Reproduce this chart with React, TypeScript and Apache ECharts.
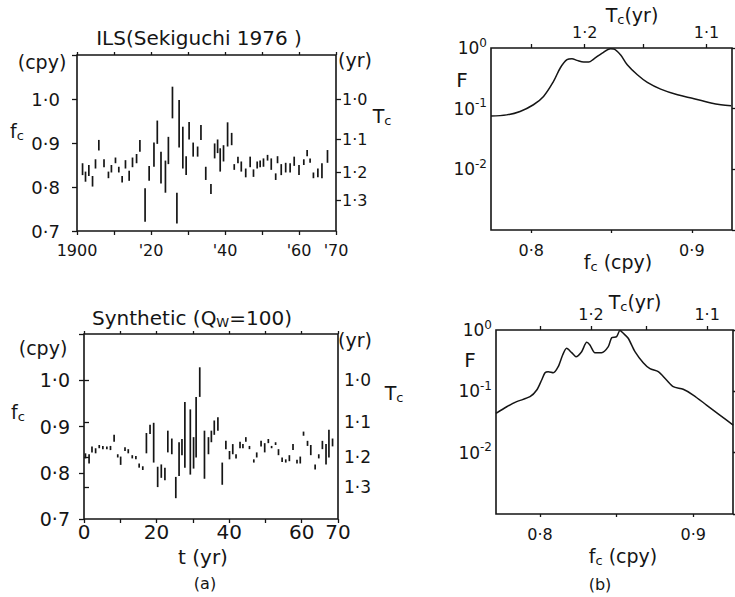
import React, { useEffect, useRef } from 'react';
import * as echarts from 'echarts';

// ---------- data ----------
// (a) top: ILS (Sekiguchi 1976) — year, low and high f_c (cpy)
const ilsYear = [1901.5, 1902.3, 1903.2, 1904.2, 1905.0, 1905.9, 1907.3, 1908.5, 1909.3, 1910.4,
  1911.3, 1912.2, 1913.1, 1914.1, 1915.0, 1916.1, 1917.0, 1918.4, 1919.5, 1920.8,
  1921.7, 1922.7, 1923.9, 1924.7, 1925.8, 1927.0, 1927.6, 1928.6, 1929.5, 1930.3,
  1931.4, 1932.6, 1933.5, 1934.8, 1936.2, 1937.2, 1938.0, 1938.7, 1939.6, 1940.7,
  1941.8, 1942.5, 1943.5, 1944.4, 1945.6, 1946.8, 1947.7, 1948.7, 1949.5, 1950.4,
  1951.5, 1952.5, 1953.7, 1954.2, 1955.2, 1956.4, 1957.6, 1958.7, 1960.0, 1961.3,
  1962.2, 1963.0, 1963.9, 1965.1, 1966.2, 1967.7];
const ilsHigh = [0.854, 0.835, 0.850, 0.825, 0.863, 0.907, 0.863, 0.835, 0.850, 0.867,
  0.846, 0.825, 0.861, 0.837, 0.867, 0.875, 0.907, 0.797, 0.848, 0.901,
  0.951, 0.880, 0.860, 0.914, 1.028, 0.787, 0.998, 0.937, 0.870, 0.948,
  0.901, 0.892, 0.941, 0.846, 0.807, 0.899, 0.908, 0.888, 0.895, 0.947,
  0.923, 0.852, 0.869, 0.858, 0.842, 0.869, 0.840, 0.858, 0.860, 0.865,
  0.873, 0.865, 0.831, 0.870, 0.852, 0.855, 0.854, 0.869, 0.850, 0.863,
  0.884, 0.865, 0.833, 0.842, 0.854, 0.884];
const ilsLow = [0.827, 0.812, 0.825, 0.801, 0.842, 0.883, 0.845, 0.820, 0.833, 0.854,
  0.833, 0.810, 0.842, 0.814, 0.845, 0.854, 0.880, 0.721, 0.814, 0.846,
  0.898, 0.808, 0.787, 0.852, 0.956, 0.717, 0.890, 0.842, 0.827, 0.908,
  0.869, 0.869, 0.907, 0.816, 0.784, 0.865, 0.877, 0.835, 0.858, 0.892,
  0.895, 0.839, 0.854, 0.835, 0.822, 0.845, 0.823, 0.842, 0.845, 0.846,
  0.860, 0.839, 0.816, 0.854, 0.827, 0.833, 0.833, 0.848, 0.827, 0.850,
  0.870, 0.855, 0.820, 0.822, 0.820, 0.855];

// (a) bottom: Synthetic (Qw=100) — t (yr), low and high f_c (cpy)
const synT = [0.4, 1.4, 2.2, 3.2, 4.2, 5.2, 6.3, 7.3, 8.3, 9.3,
  10.1, 11.3, 12.2, 13.3, 14.3, 15.2, 16.2, 17.2, 18.2, 19.2,
  20.3, 21.3, 22.3, 23.1, 24.2, 25.3, 26.2, 27.0, 27.8, 29.3,
  30.2, 30.9, 31.9, 33.2, 34.3, 35.1, 35.9, 36.9, 38.1, 39.1,
  40.1, 41.0, 41.9, 43.0, 43.8, 44.6, 45.6, 46.8, 47.6, 48.8,
  49.8, 50.8, 51.7, 52.8, 53.6, 54.6, 55.6, 56.6, 57.6, 58.7,
  59.6, 60.5, 61.6, 62.5, 63.7, 64.7, 65.7, 66.7, 67.5, 68.5];
const synHigh = [0.842, 0.840, 0.857, 0.853, 0.860, 0.858, 0.857, 0.858, 0.882, 0.840,
  0.835, 0.855, 0.851, 0.838, 0.836, 0.820, 0.814, 0.886, 0.904, 0.908,
  0.813, 0.818, 0.811, 0.891, 0.874, 0.791, 0.866, 0.873, 0.953, 0.937,
  0.877, 0.964, 1.028, 0.891, 0.877, 0.891, 0.913, 0.920, 0.822, 0.869,
  0.847, 0.862, 0.840, 0.867, 0.862, 0.877, 0.858, 0.829, 0.844, 0.869,
  0.864, 0.873, 0.858, 0.866, 0.851, 0.833, 0.829, 0.838, 0.862, 0.828,
  0.835, 0.889, 0.869, 0.860, 0.818, 0.840, 0.869, 0.862, 0.893, 0.874];
const synLow = [0.831, 0.820, 0.844, 0.842, 0.853, 0.851, 0.851, 0.849, 0.867, 0.833,
  0.817, 0.847, 0.842, 0.831, 0.829, 0.811, 0.806, 0.842, 0.884, 0.822,
  0.769, 0.789, 0.784, 0.844, 0.840, 0.745, 0.793, 0.838, 0.811, 0.796,
  0.809, 0.833, 0.964, 0.787, 0.840, 0.866, 0.882, 0.891, 0.774, 0.851,
  0.829, 0.840, 0.831, 0.853, 0.853, 0.867, 0.851, 0.822, 0.833, 0.857,
  0.844, 0.864, 0.853, 0.860, 0.838, 0.823, 0.822, 0.825, 0.849, 0.820,
  0.820, 0.880, 0.858, 0.838, 0.807, 0.831, 0.851, 0.818, 0.833, 0.857];

// (b) top: spectrum F of ILS
const specIlsFreq = [0.775, 0.7848, 0.7931, 0.8014, 0.8077, 0.8139, 0.8181, 0.8223, 0.8254, 0.8285,
  0.8327, 0.8358, 0.8389, 0.8442, 0.8494, 0.8514, 0.8556, 0.8598, 0.8661, 0.8723,
  0.8806, 0.8911, 0.9014, 0.9119, 0.9181, 0.9244];
const specIlsF = [0.076, 0.079, 0.090, 0.116, 0.159, 0.281, 0.468, 0.641, 0.665, 0.625,
  0.586, 0.586, 0.658, 0.826, 0.973, 0.962, 0.774, 0.530, 0.362, 0.271,
  0.210, 0.169, 0.146, 0.124, 0.116, 0.112];

// (b) bottom: spectrum F of synthetic
const specSynFreq = [0.7713, 0.7783, 0.7848, 0.7935, 0.7979, 0.8011, 0.8033, 0.8054, 0.8087, 0.8119,
  0.8148, 0.8174, 0.8207, 0.8235, 0.8272, 0.8305, 0.8326, 0.8359, 0.8402, 0.8446,
  0.8468, 0.8500, 0.8522, 0.8544, 0.8576, 0.8620, 0.8674, 0.8718, 0.8772, 0.8826,
  0.8870, 0.8935, 0.9000, 0.9087, 0.9174, 0.9261];
const specSynF = [0.0438, 0.0561, 0.0678, 0.0817, 0.105, 0.153, 0.201, 0.209, 0.201, 0.252,
  0.391, 0.502, 0.427, 0.367, 0.443, 0.630, 0.569, 0.427, 0.427, 0.535,
  0.750, 0.778, 0.980, 0.883, 0.733, 0.443, 0.293, 0.234, 0.209, 0.153,
  0.119, 0.108, 0.0871, 0.0598, 0.0410, 0.0282];

// tick labels
const yearLabels: Record<number, string> = { 1900: '1900', 1920: "'20", 1940: "'40", 1960: "'60", 1970: "'70" };
const tLabels = [0, 20, 40, 60, 70];
const periodRight = [1.0, 1.1, 1.2, 1.3];
const periodTopTicks = [1.25, 1.2, 1.15, 1.1];
const periodTopLabels = [1.2, 1.1];
const freqTicks = [0.8, 0.85, 0.9];
const freqLabels = [0.8, 0.9];
const logLabelExps = [0, -1, -2];

const INK = '#151515';
const FONT = 'DejaVu Sans';

const dot = (v: number) => v.toFixed(1).replace('.', '\u00b7');

export default function App() {
  const ref = useRef<HTMLDivElement>(null);
  useEffect(() => {
    if (!ref.current) return;
    const chart = echarts.init(ref.current, undefined, { renderer: 'svg' });

    const gridBase = { show: true, borderColor: INK, borderWidth: 1.6, containLabel: false, outerBoundsMode: 'none' };
    const tickStyle = { color: INK, width: 1.3 };
    const noLine = { show: false };

    const timeX = (grid: number, min: number, max: number, labelFn: (v: number) => string, fontSize: number, margin: number) => ([
      {
        type: 'value', gridIndex: grid, position: 'bottom', min, max, interval: 10,
        axisLine: noLine, splitLine: { show: false },
        axisTick: { show: true, inside: false, length: 4, lineStyle: tickStyle },
        axisLabel: { formatter: labelFn, fontSize, margin, color: INK, fontFamily: FONT, showMinLabel: true, showMaxLabel: true },
      },
      {
        type: 'value', gridIndex: grid, position: 'top', min, max, interval: 10,
        axisLine: noLine, splitLine: { show: false },
        axisTick: { show: true, inside: false, length: 3, lineStyle: tickStyle },
        axisLabel: { show: false },
      },
    ]);

    const freqX = (grid: number, min: number, max: number) => ([
      {
        type: 'value', gridIndex: grid, position: 'bottom', min, max,
        axisLine: noLine, splitLine: { show: false },
        axisTick: { show: true, inside: false, length: 3, lineStyle: tickStyle, customValues: freqTicks },
        axisLabel: { customValues: freqLabels, formatter: (v: number) => dot(v), fontSize: 16, margin: 12, color: INK, fontFamily: FONT },
      },
      {
        type: 'value', gridIndex: grid, position: 'top', min, max,
        axisLine: noLine, splitLine: { show: false },
        axisTick: { show: true, inside: false, length: 4, lineStyle: tickStyle, customValues: periodTopTicks.map((T) => 1 / T) },
        axisLabel: { customValues: periodTopLabels.map((T) => 1 / T), formatter: (v: number) => dot(1 / v), fontSize: 16, margin: 8, color: INK, fontFamily: FONT },
      },
    ]);

    const fcY = (grid: number, margin: number, fontSize: number, rightSize: number) => ([
      {
        type: 'value', gridIndex: grid, position: 'left', min: 0.7, max: 1.1, interval: 0.1,
        axisLine: noLine, splitLine: { show: false },
        axisTick: { show: true, inside: false, length: 5, lineStyle: tickStyle },
        axisLabel: { formatter: (v: number) => (v > 1.05 ? '' : dot(v)), fontSize, margin, color: INK, fontFamily: FONT },
      },
      {
        type: 'value', gridIndex: grid, position: 'right', min: 0.7, max: 1.1,
        axisLine: noLine, splitLine: { show: false },
        axisTick: { show: true, inside: false, length: 5, lineStyle: tickStyle, customValues: periodRight.map((T) => 1 / T) },
        axisLabel: { customValues: periodRight.map((T) => 1 / T), formatter: (v: number) => dot(1 / v), fontSize: rightSize, margin: 6, color: INK, fontFamily: FONT },
      },
    ]);

    const logY = (grid: number) => ([
      {
        type: 'log', logBase: 10, gridIndex: grid, position: 'left', min: 0.001, max: 1,
        axisLine: noLine, splitLine: { show: false }, minorTick: { show: false },
        axisTick: { show: false },
        axisLabel: {
          margin: 4, color: INK, fontFamily: FONT,
          formatter: (v: number) => {
            const e = Math.round(Math.log10(v));
            return logLabelExps.includes(e) ? `{b|10}{s|${e}}` : '';
          },
          rich: {
            b: { fontSize: 17, color: INK, fontFamily: FONT },
            s: { fontSize: 12, color: INK, fontFamily: FONT, padding: [0, 0, 11, 0] },
          },
        },
      },
      {
        type: 'log', logBase: 10, gridIndex: grid, position: 'right', min: 0.001, max: 1,
        axisLine: noLine, splitLine: { show: false },
        axisTick: { show: true, inside: false, length: 4, lineStyle: tickStyle },
        axisLabel: { show: false },
      },
    ]);

    const barSeries = (xi: number, yi: number, xs: number[], lo: number[], hi: number[]) => ({
      type: 'custom', xAxisIndex: xi, yAxisIndex: yi,
      data: xs.map((x, i) => [x, lo[i], hi[i]]),
      encode: { x: 0, y: [1, 2] },
      renderItem: (_p: any, api: any) => {
        const a = api.coord([api.value(0), api.value(1)]);
        const b = api.coord([api.value(0), api.value(2)]);
        return {
          type: 'line',
          shape: { x1: a[0], y1: a[1], x2: b[0], y2: b[1] },
          style: { stroke: INK, lineWidth: 1.7, lineCap: 'butt' },
        };
      },
    });

    const specSeries = (xi: number, yi: number, fs: number[], Fs: number[], smooth: number) => ({
      type: 'line', xAxisIndex: xi, yAxisIndex: yi,
      data: fs.map((f, i) => [f, Fs[i]]),
      showSymbol: false, symbol: 'none', smooth,
      lineStyle: { color: INK, width: 1.5 },
    });

    const sub = { fontSize: 13, fontFamily: FONT, fill: INK, color: INK, padding: [9, 0, 0, 0] };
    const main = (s: number) => ({ fontSize: s, fontFamily: FONT, fill: INK, color: INK });
    const txt = (x: number, y: number, text: string, size: number, rich?: any) => ({
      type: 'text', x, y,
      style: {
        text, fontSize: size, fontFamily: FONT, fill: INK,
        align: 'center', verticalAlign: 'middle', textAlign: 'center', textVerticalAlign: 'middle',
        rich: rich || undefined,
      },
    });

    const option: any = {
      animation: false,
      backgroundColor: '#ffffff',
      textStyle: { fontFamily: FONT, color: INK },
      grid: [
        { ...gridBase, left: 77, top: 55, width: 259, height: 176 },
        { ...gridBase, left: 491, top: 48, width: 241, height: 182 },
        { ...gridBase, left: 84, top: 334, width: 254, height: 185 },
        { ...gridBase, left: 496, top: 330, width: 237, height: 184 },
      ],
      xAxis: [
        ...timeX(0, 1900, 1970, (v: number) => yearLabels[v] ?? '', 16, 11),
        ...freqX(1, 0.775, 0.925),
        ...timeX(2, 0, 70, (v: number) => (tLabels.includes(v) ? String(v) : ''), 20, 3),
        ...freqX(3, 0.7713, 0.926),
      ],
      yAxis: [
        ...fcY(0, 17, 18, 16),
        ...logY(1),
        ...fcY(2, 14, 19, 17),
        ...logY(3),
      ],
      series: [
        barSeries(0, 0, ilsYear, ilsLow, ilsHigh),
        specSeries(2, 2, specIlsFreq, specIlsF, 0.35),
        barSeries(4, 4, synT, synLow, synHigh),
        specSeries(6, 6, specSynFreq, specSynF, 0.25),
      ],
      graphic: [
        txt(199, 38, 'ILS(Sekiguchi 1976 )', 20),
        txt(42, 62, '(cpy)', 19),
        txt(17, 131, '{m|f}{s|c}', 19, { m: main(19), s: sub }),
        txt(355, 60, '(yr)', 19),
        txt(382, 116, '{m|T}{s|c}', 19, { m: main(19), s: sub }),

        txt(192, 318, '{m|Synthetic (Q}{s|W}{m|=100)}', 20, { m: main(20), s: sub }),
        txt(43, 348, '(cpy)', 19),
        txt(18, 412, '{m|f}{s|c}', 19, { m: main(19), s: sub }),
        txt(355, 340, '(yr)', 19),
        txt(394, 393, '{m|T}{s|c}', 19, { m: main(19), s: sub }),
        txt(203, 557, 't (yr)', 20),
        txt(205, 583, '(a)', 16),

        txt(632, 15, '{m|T}{s|c}{m|(yr)}', 19, { m: main(19), s: sub }),
        txt(462, 80, 'F', 20),
        txt(618, 262, '{m|f}{s|c}{m| (cpy)}', 19, { m: main(19), s: sub }),

        txt(635, 302, '{m|T}{s|c}{m|(yr)}', 19, { m: main(19), s: sub }),
        txt(470, 360, 'F', 20),
        txt(623, 556, '{m|f}{s|c}{m| (cpy)}', 19, { m: main(19), s: sub }),
        txt(600, 584, '(b)', 16),
      ],
    };

    chart.setOption(option);
    return () => chart.dispose();
  }, []);

  return (
    <div
      ref={ref}
      style={{ position: 'fixed', left: 0, top: 0, width: 735, height: 597, background: '#fff' }}
    />
  );
}
